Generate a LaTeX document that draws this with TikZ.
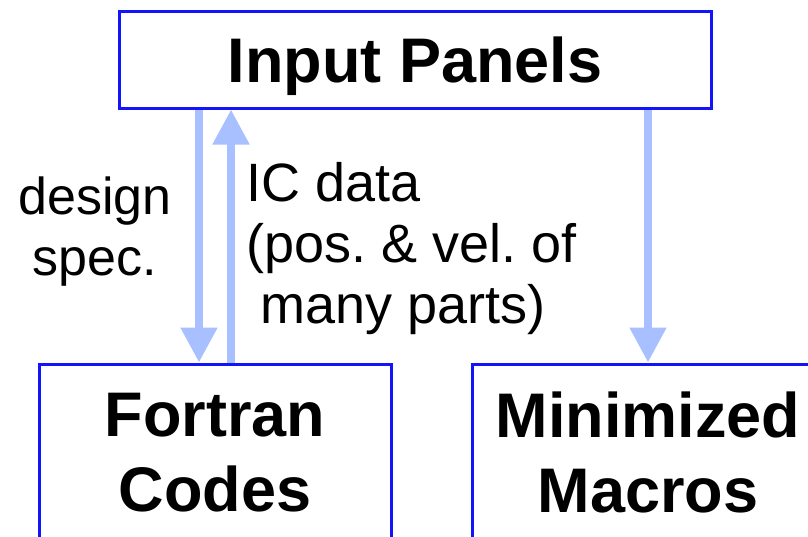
\documentclass[tikz,border=0pt]{standalone}
\usepackage{fontspec}
\setmainfont{Liberation Sans}
\usetikzlibrary{arrows.meta}
\definecolor{boxblue}{RGB}{20,20,250}
\definecolor{arrowblue}{RGB}{168,192,255}
\frenchspacing

\begin{document}
\begin{tikzpicture}[x=1pt,y=-1pt,
    panel/.style={draw=boxblue,line width=3pt,inner sep=0pt,align=center,
      font=\bfseries\fontsize{63}{75}\selectfont},
    flow/.style={draw=arrowblue,line width=8pt,-{Triangle[length=35pt,width=35pt]}},
    note/.style={inner sep=0pt,font=\fontsize{52}{61}\selectfont}]
            \clip(0,0)rectangle(808,536);
            % boxes
            \node[panel,minimum width=592pt,minimum height=97pt,text depth=0pt](inp)at(415,59.5){Input Panels};
            \node[panel,minimum width=352pt,minimum height=177pt](fort)at(215,452.5){Fortran\\Codes};
            \node[panel,minimum width=352pt,minimum height=177pt](macro)at(648,452.5){Minimized\\Macros};
            % arrows
            \coordinate(dn)at(199,0);
            \coordinate(up)at(231,0);
            \coordinate(mm)at(648,0);
            \path[flow](inp.south -| dn)--(fort.north -| dn);
            \path[flow](fort.north -| up)--(inp.south -| up);
            \path[flow](inp.south -| mm)--(macro.north -| mm);
            % labels
            \node[note,align=center](spec)at(95,231.5){design\\spec.};
            \node[note,font=\fontsize{54}{61}\selectfont,align=left,anchor=west](ic)at(246,249){IC data\\(pos. \& vel. of\\\hspace*{14pt}many parts)};
        \end{tikzpicture}
\end{document}
